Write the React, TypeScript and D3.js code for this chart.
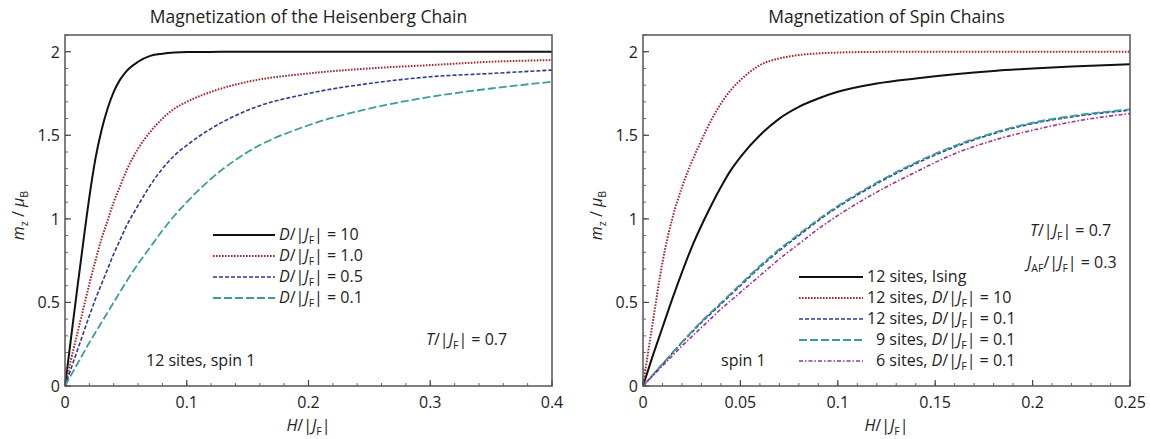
import React from "react";
import * as d3 from "d3";

// ---------- DATA ----------
const leftH = [0, 0.005, 0.01, 0.015, 0.02, 0.025, 0.03, 0.035, 0.04, 0.045, 0.05, 0.06, 0.07, 0.08, 0.09, 0.1, 0.12, 0.15, 0.2, 0.25, 0.3, 0.35, 0.4];
const leftD10 = [0, 0.29, 0.58, 0.86, 1.13, 1.36, 1.53, 1.66, 1.76, 1.83, 1.88, 1.94, 1.975, 1.988, 1.995, 1.998, 1.999, 2, 2, 2, 2, 2, 2];
const leftD1 = [0, 0.16, 0.31, 0.46, 0.61, 0.75, 0.88, 0.99, 1.1, 1.19, 1.28, 1.42, 1.52, 1.6, 1.66, 1.7, 1.76, 1.82, 1.87, 1.9, 1.92, 1.94, 1.95];
const leftD05 = [0, 0.105, 0.21, 0.315, 0.42, 0.52, 0.61, 0.7, 0.79, 0.87, 0.95, 1.08, 1.2, 1.3, 1.38, 1.44, 1.54, 1.65, 1.75, 1.81, 1.85, 1.87, 1.89];
const leftD01 = [0, 0.065, 0.13, 0.195, 0.26, 0.32, 0.38, 0.44, 0.5, 0.56, 0.62, 0.73, 0.83, 0.93, 1.02, 1.1, 1.24, 1.4, 1.56, 1.66, 1.73, 1.78, 1.82];

const rightH = [0, 0.005, 0.01, 0.015, 0.02, 0.025, 0.03, 0.035, 0.04, 0.045, 0.05, 0.06, 0.07, 0.08, 0.09, 0.1, 0.12, 0.14, 0.16, 0.18, 0.2, 0.22, 0.25];
const rightIsing = [0, 0.18, 0.35, 0.52, 0.68, 0.83, 0.96, 1.08, 1.19, 1.29, 1.37, 1.5, 1.6, 1.67, 1.72, 1.76, 1.81, 1.84, 1.865, 1.885, 1.9, 1.912, 1.925];
const right12D10 = [0, 0.38, 0.74, 1.0, 1.19, 1.34, 1.47, 1.59, 1.69, 1.77, 1.83, 1.92, 1.96, 1.98, 1.99, 1.995, 1.999, 2, 2, 2, 2, 2, 2];
const right12D01 = [0, 0.065, 0.13, 0.195, 0.26, 0.32, 0.38, 0.435, 0.49, 0.545, 0.6, 0.71, 0.81, 0.9, 0.99, 1.07, 1.21, 1.33, 1.43, 1.51, 1.57, 1.61, 1.65];
const right9D01 = [0, 0.066, 0.132, 0.198, 0.263, 0.325, 0.386, 0.442, 0.497, 0.553, 0.608, 0.718, 0.818, 0.908, 0.997, 1.077, 1.217, 1.337, 1.437, 1.515, 1.575, 1.615, 1.655];
const right6D01 = [0, 0.06, 0.12, 0.18, 0.24, 0.295, 0.35, 0.405, 0.46, 0.51, 0.56, 0.66, 0.76, 0.85, 0.94, 1.02, 1.16, 1.28, 1.39, 1.47, 1.53, 1.58, 1.63];

const yTicks = [0, 0.5, 1, 1.5, 2];
const leftXTicks = [0, 0.1, 0.2, 0.3, 0.4];
const rightXTicks = [0, 0.05, 0.1, 0.15, 0.2, 0.25];
const leftXTickLabels = ["0", "0.1", "0.2", "0.3", "0.4"];
const rightXTickLabels = ["0", "0.05", "0.1", "0.15", "0.2", "0.25"];
const yTickLabels = ["0", "0.5", "1", "1.5", "2"];

const leftTitle = "Magnetization of the Heisenberg Chain";
const rightTitle = "Magnetization of Spin Chains";

// ---------- STYLES ----------
const FONT = "'Open Sans', 'Noto Sans', sans-serif";
const C_BLACK = "#111111";
const C_RED = "#a02a2e";
const C_BLUE = "#2b3b8e";
const C_TEAL = "#3b9d9b";
const C_PURPLE = "#a0309c";
const FS = 16;

type Seg = { t: string; i?: boolean; sub?: boolean };

function Rich({ x, y, segs, size = FS, anchor = "start", transform }: { x: number; y: number; segs: Seg[]; size?: number; anchor?: string; transform?: string }) {
  const parts: any[] = [];
  let inSub = false;
  segs.forEach((s, k) => {
    let dy = 0;
    if (s.sub && !inSub) { dy = 4; inSub = true; }
    else if (!s.sub && inSub) { dy = -4; inSub = false; }
    parts.push(
      <tspan key={k} dy={dy || undefined} fontStyle={s.i ? "italic" : "normal"} fontSize={s.sub ? size * 0.66 : size}>
        {s.t}
      </tspan>
    );
  });
  return (
    <text x={x} y={y} fontSize={size} textAnchor={anchor as any} fontFamily={FONT} fill="#222" transform={transform}>
      {parts}
    </text>
  );
}

const DJ = (v: string, pre = ""): Seg[] => [
  ...(pre ? [{ t: pre }] : []),
  { t: "D", i: true }, { t: "/|" }, { t: "J", i: true }, { t: "F", sub: true }, { t: "| = " + v },
];
const HJ: Seg[] = [{ t: "H", i: true }, { t: "/|" }, { t: "J", i: true }, { t: "F", sub: true }, { t: "|" }];
const MZ: Seg[] = [{ t: "m", i: true }, { t: "z", sub: true }, { t: " / " }, { t: "μ", i: true }, { t: "B", sub: true }];
const TJ: Seg[] = [{ t: "T", i: true }, { t: "/|" }, { t: "J", i: true }, { t: "F", sub: true }, { t: "| = 0.7" }];
const JAF: Seg[] = [{ t: "J", i: true }, { t: "AF", sub: true }, { t: "/|" }, { t: "J", i: true }, { t: "F", sub: true }, { t: "| = 0.3" }];

type Series = { H: number[]; m: number[]; color: string; dash: string; width: number };

function Panel({ x0, x1, xMax, xTicks, xTickLabels, xMinor, title, series, legend, legendX, legendY, legendDy, lineLen, notes }: any) {
  const y0 = 386, y1 = 35;
  const xs = d3.scaleLinear().domain([0, xMax]).range([x0, x1]);
  const ys = d3.scaleLinear().domain([0, 2.1]).range([y0, y1]);
  const line = d3.line<[number, number]>().x(d => xs(d[0])).y(d => ys(d[1])).curve(d3.curveMonotoneX);
  const xMinorTicks = d3.range(0, xMax + 1e-9, xMinor);
  const yMinorTicks = d3.range(0, 2.1 + 1e-9, 0.1);
  return (
    <g>
      <text x={(x0 + x1) / 2} y={23} textAnchor="middle" fontSize={17.5} fontFamily={FONT} fill="#222">{title}</text>
      <defs>
        <clipPath id={"clip" + x0}>
          <rect x={x0} y={y1 - 1} width={x1 - x0} height={y0 - y1 + 1} />
        </clipPath>
      </defs>
      <g clipPath={`url(#clip${x0})`}>
        {series.map((s: Series, k: number) => (
          <path key={k} d={line(s.H.map((h, j) => [h, s.m[j]]) as any) || ""} fill="none" stroke={s.color} strokeWidth={s.width} strokeDasharray={s.dash} />
        ))}
      </g>
      {xMinorTicks.map((t: number, k: number) => (
        <line key={"xm" + k} x1={xs(t)} x2={xs(t)} y1={y0} y2={y0 - 3} stroke="#666" strokeWidth={1} />
      ))}
      {yMinorTicks.map((t, k) => (
        <line key={"ym" + k} x1={x0} x2={x0 + 3} y1={ys(t)} y2={ys(t)} stroke="#666" strokeWidth={1} />
      ))}
      {xTicks.map((t: number, k: number) => (
        <g key={"xt" + k}>
          <line x1={xs(t)} x2={xs(t)} y1={y0} y2={y0 - 6} stroke="#444" strokeWidth={1.2} />
          <text x={xs(t)} y={408} textAnchor="middle" fontSize={FS} fontFamily={FONT} fill="#222">{xTickLabels[k]}</text>
        </g>
      ))}
      {yTicks.map((t, k) => (
        <g key={"yt" + k}>
          <line x1={x0} x2={x0 + 6} y1={ys(t)} y2={ys(t)} stroke="#444" strokeWidth={1.2} />
          <text x={x0 - 5} y={ys(t) + 6} textAnchor="end" fontSize={FS} fontFamily={FONT} fill="#222">{yTickLabels[k]}</text>
        </g>
      ))}
      <rect x={x0} y={y1} width={x1 - x0} height={y0 - y1} fill="none" stroke="#555" strokeWidth={1.5} />
      <Rich x={(x0 + x1) / 2} y={431} segs={HJ} anchor="middle" />
      <Rich x={x0 - 41} y={(y0 + y1) / 2 + 5} segs={MZ} anchor="middle" transform={`rotate(-90 ${x0 - 41} ${(y0 + y1) / 2 + 5})`} />
      {legend.map((l: any, k: number) => {
        const ly = legendY + k * legendDy;
        return (
          <g key={"lg" + k}>
            <line x1={legendX} x2={legendX + lineLen} y1={ly} y2={ly} stroke={series[k].color} strokeWidth={series[k].width} strokeDasharray={series[k].dash} />
            <Rich x={legendX + lineLen + 4 + (l.indent || 0)} y={ly + 5} segs={l.segs} />
          </g>
        );
      })}
      {notes.map((n: any, k: number) => (
        <Rich key={"n" + k} x={n.x} y={n.y} segs={n.segs} />
      ))}
    </g>
  );
}

export default function App() {
  const leftSeries: Series[] = [
    { H: leftH, m: leftD10, color: C_BLACK, dash: "none", width: 2 },
    { H: leftH, m: leftD1, color: C_RED, dash: "1.6 1.4", width: 2 },
    { H: leftH, m: leftD05, color: C_BLUE, dash: "4 2", width: 1.6 },
    { H: leftH, m: leftD01, color: C_TEAL, dash: "8 3", width: 1.8 },
  ];
  const rightSeries: Series[] = [
    { H: rightH, m: rightIsing, color: C_BLACK, dash: "none", width: 2 },
    { H: rightH, m: right12D10, color: C_RED, dash: "1.6 1.4", width: 2 },
    { H: rightH, m: right12D01, color: C_BLUE, dash: "4 2", width: 1.6 },
    { H: rightH, m: right9D01, color: C_TEAL, dash: "8 3", width: 1.8 },
    { H: rightH, m: right6D01, color: C_PURPLE, dash: "4 2 1.5 2", width: 1.6 },
  ];
  const leftLegend = [
    { segs: DJ("10") }, { segs: DJ("1.0") }, { segs: DJ("0.5") }, { segs: DJ("0.1") },
  ];
  const rightLegend = [
    { segs: [{ t: "12 sites, Ising" }] },
    { segs: DJ("10", "12 sites, ") },
    { segs: DJ("0.1", "12 sites, ") },
    { segs: DJ("0.1", "9 sites, "), indent: 9 },
    { segs: DJ("0.1", "6 sites, "), indent: 9 },
  ];
  return (
    <svg width={1150} height={439} style={{ position: "absolute", left: 0, top: 0, background: "#fff" }}>
      <rect x={0} y={0} width={1150} height={439} fill="#fff" />
      <Panel x0={65} x1={552} xMax={0.4} xTicks={leftXTicks} xTickLabels={leftXTickLabels} xMinor={0.02}
        title={leftTitle} series={leftSeries} legend={leftLegend} legendX={213} legendY={235} legendDy={21} lineLen={62}
        notes={[{ x: 426, y: 345, segs: TJ }, { x: 146, y: 366, segs: [{ t: "12 sites, spin 1" }] }]} />
      <Panel x0={643} x1={1130} xMax={0.25} xTicks={rightXTicks} xTickLabels={rightXTickLabels} xMinor={0.01}
        title={rightTitle} series={rightSeries} legend={rightLegend} legendX={799} legendY={277} legendDy={21} lineLen={64}
        notes={[{ x: 1030, y: 236, segs: TJ }, { x: 1027, y: 268, segs: JAF }, { x: 721, y: 366, segs: [{ t: "spin 1" }] }]} />
    </svg>
  );
}
